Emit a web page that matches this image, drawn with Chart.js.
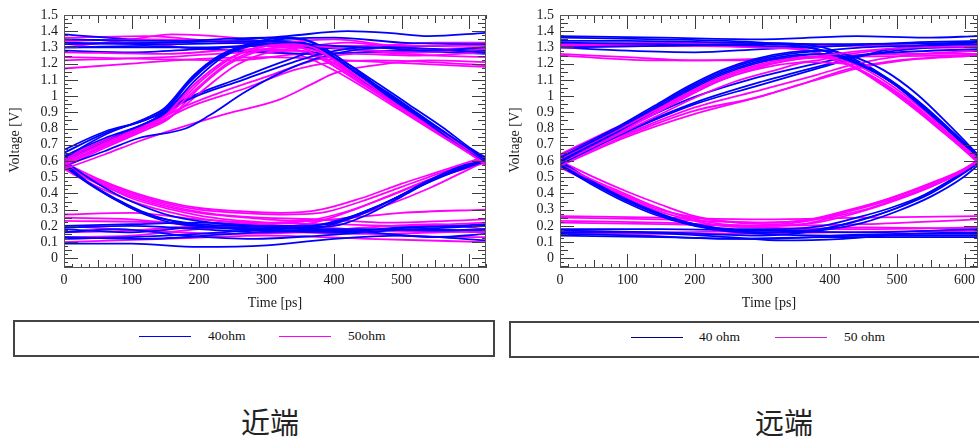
<!DOCTYPE html>
<html>
<head>
<meta charset="utf-8">
<script src="https://cdn.jsdelivr.net/npm/chart.js@4.4.1/dist/chart.umd.min.js"></script>
<style>
  body { margin: 0; background: #fff; width: 979px; height: 438px; overflow: hidden; position: relative; }
  canvas { position: absolute; top: 0; }
  .box { position: absolute; box-sizing: border-box; border: 2px solid #444; height: 37px; }
  .key { position: absolute; height: 1px; }
  .lbl { position: absolute; font: 13.5px "Liberation Serif", serif; color: #111; line-height: 20px; height: 20px; }
  .cap { position: absolute; width: 200px; text-align: center; font: 29px "Noto Sans CJK SC", sans-serif; color: #222; line-height: 40px; top: 401px; }
</style>
</head>
<body>
<canvas id="near" width="500" height="310" style="left:0"></canvas>
<canvas id="far" width="479" height="310" style="left:500px"></canvas>

<div class="box" style="left:13px;top:320px;width:482px"></div>
<div class="key" style="left:139px;top:336px;width:52px;background:#0000ff"></div>
<div class="lbl" style="left:208px;top:326px" id="ln0"></div>
<div class="key" style="left:279px;top:336px;width:52px;background:#ff00ff"></div>
<div class="lbl" style="left:348px;top:326px" id="ln1"></div>

<div class="box" style="left:509px;top:321px;width:490px"></div>
<div class="key" style="left:631px;top:337px;width:52px;background:#000080"></div>
<div class="lbl" style="left:699px;top:327px" id="lf0"></div>
<div class="key" style="left:775px;top:337px;width:52px;background:#cc22cc"></div>
<div class="lbl" style="left:844px;top:327px" id="lf1"></div>

<div class="cap" style="left:170px" id="cap0"></div>
<div class="cap" style="left:684px" id="cap1"></div>

<script>
// axis ticks and labels
var timeTicks = [0, 100, 200, 300, 400, 500, 600];
var voltTicks = [0, 0.1, 0.2, 0.3, 0.4, 0.5, 0.6, 0.7, 0.8, 0.9, 1, 1.1, 1.2, 1.3, 1.4, 1.5];
var xTitle = 'Time [ps]';
var yTitle = 'Voltage [V]';
var nearLegend = ['40ohm', '50ohm'];
var farLegend = ['40 ohm', '50 ohm'];
var captions = ['近端', '远端'];

// near end traces [time ps, volt V], 40 ohm
var nearBlue = [
  [[0,0.67],[60,0.78],[125,0.86],[150,0.92],[190,1.11],[225,1.23],[270,1.31],[320,1.35],[400,1.36],[500,1.33],[625,1.32]],
  [[0,0.63],[60,0.74],[120,0.83],[150,0.90],[195,1.10],[235,1.24],[290,1.32],[340,1.33],[380,1.29],[440,1.12],[490,0.97],[540,0.83],[590,0.68],[625,0.59]],
  [[0,0.60],[70,0.73],[130,0.84],[180,0.97],[265,1.10],[340,1.21],[390,1.27],[450,1.30],[540,1.28],[625,1.30]],
  [[0,0.57],[60,0.66],[110,0.74],[180,0.80],[215,0.88],[270,1.03],[340,1.18],[400,1.26],[480,1.30],[625,1.27]],
  [[0,0.62],[60,0.76],[125,0.87],[150,0.93],[190,1.12],[230,1.25],[280,1.33],[330,1.36],[370,1.33],[420,1.20],[480,1.01],[540,0.84],[590,0.70],[625,0.61]],
  [[0,0.65],[60,0.77],[125,0.86],[150,0.91],[185,1.08],[220,1.21],[265,1.30],[310,1.34],[355,1.33],[400,1.24],[455,1.08],[510,0.93],[560,0.79],[605,0.66],[625,0.61]],
  [[0,0.61],[70,0.74],[130,0.85],[180,0.98],[260,1.11],[330,1.22],[370,1.27],[410,1.22],[460,1.09],[510,0.95],[560,0.81],[605,0.67],[625,0.62]],
  [[0,1.32],[150,1.33],[300,1.34],[370,1.31],[430,1.15],[490,0.98],[545,0.82],[595,0.67],[625,0.60]],
  [[0,1.30],[200,1.30],[330,1.32],[380,1.27],[440,1.10],[500,0.94],[550,0.80],[600,0.66],[625,0.61]],
  [[0,1.35],[150,1.34],[300,1.36],[360,1.34],[420,1.18],[480,1.02],[535,0.86],[590,0.70],[625,0.61]],
  [[0,1.38],[100,1.35],[220,1.34],[330,1.37],[420,1.40],[480,1.39],[540,1.37],[625,1.39]],
  [[0,1.30],[120,1.31],[250,1.28],[380,1.26],[500,1.28],[625,1.26]],
  [[0,1.33],[150,1.32],[300,1.33],[450,1.30],[560,1.31],[625,1.32]],
  [[0,1.28],[100,1.27],[200,1.29],[300,1.31],[420,1.29],[520,1.27],[625,1.28]],
  [[0,0.57],[40,0.45],[90,0.33],[120,0.27],[170,0.21],[250,0.19],[350,0.18],[450,0.18],[550,0.17],[625,0.18]],
  [[0,0.59],[35,0.47],[80,0.36],[115,0.29],[160,0.23],[220,0.19],[300,0.17],[400,0.16],[500,0.19],[625,0.20]],
  [[0,0.58],[45,0.44],[95,0.32],[130,0.26],[180,0.22],[260,0.20],[340,0.20],[390,0.21],[440,0.28],[490,0.37],[540,0.48],[590,0.57],[625,0.60]],
  [[0,0.60],[50,0.46],[100,0.35],[160,0.26],[240,0.21],[320,0.19],[400,0.20],[450,0.27],[500,0.38],[550,0.49],[600,0.57],[625,0.61]],
  [[0,0.19],[100,0.20],[200,0.18],[300,0.16],[380,0.19],[440,0.27],[500,0.39],[550,0.49],[600,0.58],[625,0.62]],
  [[0,0.12],[100,0.13],[200,0.15],[300,0.18],[370,0.20],[420,0.25],[470,0.33],[520,0.43],[570,0.52],[625,0.60]],
  [[0,0.09],[100,0.09],[200,0.07],[300,0.08],[400,0.12],[500,0.14],[625,0.11]],
  [[0,0.16],[80,0.18],[180,0.14],[280,0.12],[380,0.14],[480,0.17],[625,0.20]],
  [[0,0.13],[120,0.12],[250,0.15],[350,0.17],[450,0.16],[550,0.13],[625,0.15]],
  [[0,0.20],[100,0.21],[200,0.22],[300,0.20],[420,0.17],[520,0.19],[625,0.21]],
  [[0,0.18],[100,0.16],[200,0.19],[300,0.18],[400,0.16],[500,0.18],[625,0.17]]
];

// near end, 50 ohm
var nearMagenta = [
  [[0,0.58],[60,0.70],[120,0.81],[150,0.88],[195,1.08],[240,1.22],[290,1.30],[340,1.32],[380,1.28],[420,1.15],[470,1.00],[520,0.86],[570,0.73],[625,0.58]],
  [[0,0.60],[60,0.71],[120,0.82],[155,0.89],[200,1.06],[245,1.21],[295,1.29],[340,1.30],[385,1.26],[435,1.12],[485,0.98],[535,0.84],[585,0.70],[625,0.59]],
  [[0,0.57],[60,0.69],[125,0.80],[160,0.88],[210,1.05],[255,1.19],[305,1.27],[350,1.28],[400,1.20],[450,1.06],[500,0.93],[550,0.80],[600,0.66],[625,0.58]],
  [[0,0.56],[60,0.68],[120,0.79],[155,0.86],[200,1.05],[245,1.20],[300,1.29],[360,1.31],[420,1.29],[520,1.27],[625,1.29]],
  [[0,0.61],[60,0.72],[120,0.82],[150,0.89],[190,1.06],[235,1.21],[280,1.29],[330,1.33],[400,1.35],[500,1.31],[625,1.31]],
  [[0,0.59],[70,0.71],[135,0.83],[190,0.94],[270,1.05],[340,1.16],[400,1.21],[460,1.22],[540,1.21],[625,1.19]],
  [[0,0.55],[60,0.64],[110,0.72],[160,0.79],[240,0.89],[320,0.98],[370,1.08],[400,1.14],[460,1.19],[540,1.22],[625,1.21]],
  [[0,0.60],[65,0.72],[130,0.83],[170,0.92],[230,1.02],[300,1.12],[370,1.22],[430,1.26],[520,1.25],[625,1.27]],
  [[0,0.62],[60,0.73],[125,0.84],[160,0.92],[205,1.10],[250,1.24],[300,1.31],[345,1.31],[390,1.25],[440,1.12],[490,0.98],[540,0.84],[590,0.69],[625,0.60]],
  [[0,1.34],[120,1.35],[240,1.34],[320,1.33],[380,1.25],[430,1.12],[480,0.99],[530,0.86],[580,0.72],[625,0.57]],
  [[0,1.27],[150,1.26],[280,1.29],[360,1.27],[410,1.16],[460,1.03],[510,0.90],[560,0.77],[610,0.63],[625,0.59]],
  [[0,1.22],[150,1.24],[280,1.27],[340,1.26],[395,1.17],[445,1.05],[495,0.92],[545,0.79],[595,0.66],[625,0.58]],
  [[0,1.36],[120,1.37],[240,1.33],[330,1.30],[385,1.22],[435,1.09],[485,0.96],[535,0.83],[585,0.69],[625,0.60]],
  [[0,1.17],[100,1.20],[200,1.23],[300,1.24],[420,1.22],[520,1.20],[625,1.18]],
  [[0,1.24],[120,1.23],[250,1.22],[350,1.26],[450,1.27],[550,1.25],[625,1.24]],
  [[0,1.30],[100,1.35],[160,1.38],[250,1.36],[350,1.31],[450,1.31],[550,1.33],[625,1.33]],
  [[0,1.32],[100,1.33],[200,1.29],[300,1.28],[420,1.33],[520,1.29],[625,1.30]],
  [[0,0.57],[50,0.48],[100,0.40],[150,0.34],[200,0.30],[260,0.28],[320,0.27],[380,0.28],[440,0.35],[500,0.44],[560,0.53],[625,0.62]],
  [[0,0.59],[50,0.49],[100,0.41],[150,0.35],[200,0.31],[260,0.29],[320,0.28],[380,0.30],[440,0.37],[500,0.46],[560,0.54],[625,0.63]],
  [[0,0.56],[50,0.46],[100,0.38],[150,0.32],[200,0.28],[270,0.25],[350,0.23],[420,0.25],[480,0.33],[540,0.43],[600,0.55],[625,0.60]],
  [[0,0.58],[50,0.47],[100,0.37],[160,0.30],[220,0.25],[300,0.22],[400,0.21],[500,0.20],[625,0.22]],
  [[0,0.57],[50,0.47],[100,0.39],[150,0.33],[210,0.28],[290,0.25],[380,0.24],[480,0.22],[625,0.24]],
  [[0,0.55],[45,0.45],[95,0.36],[150,0.29],[210,0.24],[290,0.21],[380,0.19],[480,0.17],[625,0.16]],
  [[0,0.25],[100,0.24],[200,0.20],[300,0.19],[370,0.22],[430,0.30],[490,0.40],[550,0.50],[600,0.57],[625,0.60]],
  [[0,0.16],[100,0.17],[200,0.20],[300,0.21],[360,0.23],[420,0.29],[480,0.38],[540,0.48],[600,0.56],[625,0.59]],
  [[0,0.27],[100,0.28],[200,0.24],[300,0.22],[400,0.24],[500,0.28],[625,0.30]],
  [[0,0.20],[120,0.17],[250,0.15],[350,0.16],[450,0.19],[550,0.21],[625,0.18]],
  [[0,0.13],[100,0.14],[200,0.18],[300,0.20],[400,0.17],[500,0.14],[625,0.13]],
  [[0,0.23],[150,0.22],[300,0.17],[450,0.15],[625,0.17]],
  [[0,0.10],[150,0.12],[300,0.14],[450,0.12],[625,0.10]]
];

// far end, 40 ohm
var farBlue = [
  [[0,0.62],[90,0.81],[140,0.93],[190,1.05],[240,1.15],[290,1.22],[340,1.26],[390,1.28],[450,1.30],[530,1.31],[622,1.32]],
  [[0,0.60],[90,0.79],[140,0.91],[190,1.03],[240,1.13],[290,1.20],[340,1.24],[390,1.26],[440,1.20],[490,1.09],[540,0.92],[590,0.74],[622,0.62]],
  [[0,0.63],[90,0.82],[140,0.94],[190,1.06],[240,1.16],[290,1.23],[340,1.27],[390,1.28],[430,1.25],[480,1.16],[530,1.01],[580,0.81],[622,0.63]],
  [[0,0.59],[90,0.80],[140,0.92],[190,1.04],[240,1.14],[290,1.21],[340,1.25],[400,1.26],[450,1.19],[500,1.06],[550,0.89],[600,0.71],[622,0.62]],
  [[0,0.58],[100,0.78],[200,0.95],[290,1.06],[390,1.18],[440,1.24],[490,1.29],[560,1.32],[622,1.33]],
  [[0,0.61],[95,0.80],[190,0.98],[280,1.10],[380,1.20],[440,1.25],[500,1.27],[622,1.29]],
  [[0,0.60],[100,0.79],[200,0.96],[300,1.09],[390,1.19],[450,1.25],[520,1.29],[622,1.31]],
  [[0,1.30],[150,1.31],[300,1.32],[370,1.30],[420,1.24],[470,1.14],[520,1.00],[570,0.81],[622,0.61]],
  [[0,1.33],[150,1.32],[300,1.31],[380,1.29],[430,1.22],[480,1.12],[530,0.97],[580,0.78],[622,0.63]],
  [[0,1.36],[150,1.35],[300,1.33],[390,1.30],[440,1.22],[490,1.10],[540,0.94],[590,0.75],[622,0.62]],
  [[0,1.37],[150,1.36],[300,1.35],[440,1.37],[540,1.36],[622,1.37]],
  [[0,1.30],[100,1.28],[200,1.27],[300,1.29],[420,1.31],[520,1.33],[622,1.34]],
  [[0,1.34],[100,1.34],[250,1.33],[400,1.32],[622,1.33]],
  [[0,0.58],[45,0.47],[95,0.36],[140,0.28],[190,0.21],[240,0.17],[300,0.15],[400,0.14],[500,0.15],[622,0.15]],
  [[0,0.57],[45,0.46],[95,0.35],[140,0.27],[190,0.21],[240,0.18],[300,0.17],[360,0.17],[400,0.19],[450,0.24],[500,0.31],[550,0.40],[590,0.50],[622,0.59]],
  [[0,0.60],[50,0.47],[100,0.36],[150,0.27],[200,0.21],[260,0.18],[330,0.18],[390,0.20],[440,0.25],[490,0.31],[540,0.39],[590,0.51],[622,0.60]],
  [[0,0.59],[45,0.47],[95,0.37],[140,0.29],[190,0.22],[240,0.18],[300,0.16],[350,0.16],[400,0.18],[450,0.22],[500,0.29],[550,0.38],[595,0.49],[622,0.58]],
  [[0,0.17],[150,0.16],[300,0.14],[380,0.17],[440,0.23],[500,0.31],[550,0.41],[595,0.52],[622,0.60]],
  [[0,0.16],[100,0.16],[250,0.13],[330,0.11],[420,0.12],[520,0.15],[622,0.16]],
  [[0,0.18],[150,0.18],[300,0.17],[450,0.16],[622,0.18]],
  [[0,0.15],[120,0.14],[250,0.12],[400,0.13],[500,0.13],[622,0.13]],
  [[0,0.14],[150,0.13],[300,0.12],[450,0.14],[622,0.14]]
];

// far end, 50 ohm
var farMagenta = [
  [[0,0.63],[90,0.80],[140,0.91],[190,1.02],[240,1.12],[290,1.19],[340,1.23],[390,1.25],[450,1.28],[530,1.30],[622,1.31]],
  [[0,0.61],[90,0.78],[140,0.89],[190,1.00],[240,1.10],[290,1.17],[340,1.22],[380,1.24],[430,1.19],[480,1.08],[530,0.93],[580,0.75],[622,0.60]],
  [[0,0.62],[90,0.79],[140,0.90],[190,1.01],[240,1.11],[290,1.18],[340,1.22],[390,1.24],[440,1.19],[490,1.07],[540,0.91],[590,0.72],[622,0.61]],
  [[0,0.59],[90,0.77],[145,0.88],[200,0.99],[260,1.09],[320,1.16],[370,1.21],[420,1.20],[470,1.09],[520,0.94],[570,0.77],[622,0.59]],
  [[0,0.58],[100,0.76],[200,0.91],[290,0.99],[370,1.09],[430,1.17],[500,1.22],[560,1.24],[622,1.26]],
  [[0,0.57],[100,0.75],[200,0.89],[300,1.00],[380,1.10],[440,1.17],[510,1.22],[622,1.25]],
  [[0,0.60],[100,0.77],[200,0.93],[300,1.04],[380,1.13],[440,1.20],[510,1.25],[622,1.28]],
  [[0,0.64],[90,0.82],[145,0.92],[200,1.03],[260,1.13],[320,1.19],[380,1.22],[430,1.26],[500,1.29],[622,1.30]],
  [[0,1.32],[150,1.32],[300,1.30],[360,1.29],[410,1.23],[460,1.13],[510,0.99],[560,0.82],[600,0.69],[622,0.61]],
  [[0,1.31],[200,1.31],[320,1.30],[380,1.27],[430,1.19],[480,1.07],[530,0.91],[580,0.74],[622,0.58]],
  [[0,1.30],[150,1.31],[300,1.30],[370,1.28],[420,1.21],[470,1.10],[520,0.95],[570,0.78],[622,0.60]],
  [[0,1.26],[100,1.24],[200,1.22],[300,1.23],[420,1.25],[520,1.26],[622,1.26]],
  [[0,1.25],[150,1.22],[280,1.22],[400,1.24],[622,1.25]],
  [[0,1.32],[150,1.33],[300,1.32],[450,1.31],[622,1.32]],
  [[0,0.58],[45,0.49],[95,0.40],[140,0.32],[190,0.25],[240,0.21],[300,0.20],[360,0.21],[410,0.26],[460,0.31],[510,0.38],[560,0.46],[600,0.54],[622,0.60]],
  [[0,0.57],[45,0.48],[95,0.39],[140,0.31],[190,0.26],[240,0.23],[300,0.22],[360,0.23],[410,0.27],[460,0.33],[510,0.40],[560,0.48],[600,0.55],[622,0.60]],
  [[0,0.56],[45,0.47],[95,0.38],[140,0.30],[190,0.24],[240,0.20],[300,0.19],[380,0.18],[450,0.18],[622,0.19]],
  [[0,0.60],[50,0.50],[100,0.41],[150,0.33],[200,0.26],[260,0.22],[320,0.21],[380,0.24],[430,0.29],[490,0.36],[540,0.43],[590,0.52],[622,0.59]],
  [[0,0.25],[150,0.24],[300,0.22],[370,0.24],[430,0.30],[490,0.37],[540,0.44],[590,0.53],[622,0.61]],
  [[0,0.22],[150,0.21],[300,0.20],[380,0.22],[440,0.28],[500,0.36],[550,0.44],[595,0.53],[622,0.60]],
  [[0,0.26],[150,0.25],[300,0.24],[450,0.25],[622,0.26]],
  [[0,0.17],[150,0.16],[300,0.17],[450,0.19],[622,0.18]],
  [[0,0.15],[200,0.15],[400,0.16],[622,0.17]],
  [[0,0.23],[150,0.22],[300,0.20],[450,0.21],[622,0.24]]
];

// ticks pointing inward on all four sides, plus labels and titles
var frameTicks = {
  id: 'frameTicks',
  afterDraw: function(chart) {
    var ctx = chart.ctx, a = chart.chartArea, x = chart.scales.x, y = chart.scales.y;
    ctx.save();
    ctx.strokeStyle = '#3c3c3c';
    ctx.lineWidth = 1;
    ctx.beginPath();
    for (var k = 0; k * 12.5 <= x.max; k++) {
      var px = Math.round(x.getPixelForValue(k * 12.5)) + 0.5;
      var len = k % 8 === 0 ? 14 : (k % 4 === 0 ? 8 : 4);
      ctx.moveTo(px, a.bottom); ctx.lineTo(px, a.bottom - len);
      ctx.moveTo(px, a.top); ctx.lineTo(px, a.top + len);
    }
    for (var j = -2; j <= 60; j++) {
      var py = Math.round(y.getPixelForValue(j * 0.025)) + 0.5;
      var l = j % 4 === 0 ? 14 : (j % 2 === 0 ? 8 : 4);
      ctx.moveTo(a.left, py); ctx.lineTo(a.left + l, py);
      ctx.moveTo(a.right, py); ctx.lineTo(a.right - l, py);
    }
    ctx.stroke();
    ctx.strokeStyle = '#555';
    ctx.strokeRect(a.left + 0.5, a.top + 0.5, a.right - a.left - 1, a.bottom - a.top - 1);

    ctx.fillStyle = '#1a1a1a';
    ctx.font = '14px "Liberation Serif", serif';
    ctx.textAlign = 'right';
    ctx.textBaseline = 'middle';
    voltTicks.forEach(function(v) {
      ctx.fillText(String(v), a.left - 6, y.getPixelForValue(v));
    });
    ctx.textAlign = 'center';
    timeTicks.forEach(function(t) {
      ctx.fillText(String(t), x.getPixelForValue(t), a.bottom + 12);
    });
    ctx.fillText(xTitle, (a.left + a.right) / 2, a.bottom + 35);
    ctx.translate(15, 140);
    ctx.rotate(-Math.PI / 2);
    ctx.fillText(yTitle, 0, 0);
    ctx.restore();
  }
};

function buildSets(blue, magenta) {
  var sets = [];
  var n = Math.max(blue.length, magenta.length);
  for (var i = 0; i < n; i++) {
    if (blue[i]) sets.push(trace(blue[i], '#0000ff'));
    if (magenta[i]) sets.push(trace(magenta[i], '#ff00ff'));
  }
  return sets;
}

function trace(pts, color) {
  return {
    data: pts.map(function(p) { return {x: p[0], y: p[1]}; }),
    borderColor: color,
    borderWidth: 1.8,
    pointRadius: 0,
    fill: false,
    cubicInterpolationMode: 'monotone'
  };
}

function makeChart(id, blue, magenta, xmax, pad) {
  return new Chart(document.getElementById(id), {
    type: 'line',
    data: { datasets: buildSets(blue, magenta) },
    options: {
      responsive: false,
      animation: false,
      layout: { padding: pad },
      plugins: { legend: { display: false }, tooltip: { enabled: false } },
      scales: {
        x: { type: 'linear', display: false, min: 0, max: xmax },
        y: { type: 'linear', display: false, min: -0.06, max: 1.5 }
      }
    },
    plugins: [frameTicks]
  });
}

makeChart('near', nearBlue, nearMagenta, 625, {left: 64, top: 15, right: 14, bottom: 42});
makeChart('far', farBlue, farMagenta, 620, {left: 60, top: 15, right: 1, bottom: 42});

document.getElementById('ln0').textContent = nearLegend[0];
document.getElementById('ln1').textContent = nearLegend[1];
document.getElementById('lf0').textContent = farLegend[0];
document.getElementById('lf1').textContent = farLegend[1];
document.getElementById('cap0').textContent = captions[0];
document.getElementById('cap1').textContent = captions[1];
</script>
</body>
</html>
